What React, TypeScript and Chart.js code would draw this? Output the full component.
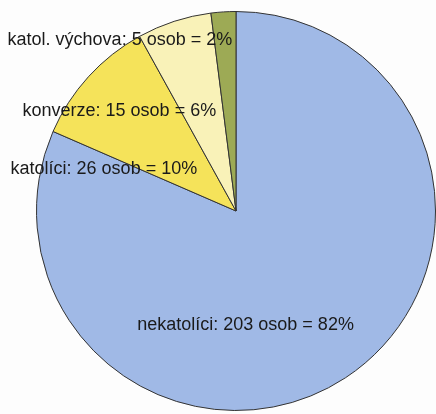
import React, { useEffect, useRef } from "react";
import { Chart, registerables } from "chart.js";

Chart.register(...registerables);

const categories = ["nekatolíci", "katolíci", "konverze", "katol. výchova"];
const counts = [203, 26, 15, 5];
const percents = [82, 10, 6, 2];
const colors = ["#a0b9e6", "#f5e35a", "#f9f2b8", "#9daa55"];

// label anchor offsets relative to pie centre, in units of radius
const labelOffsets: [number, number][] = [
  [-0.495, 0.57],
  [-1.13, -0.21],
  [-1.07, -0.5],
  [-1.145, -0.855],
];

const labelPlugin = {
  id: "sliceLabels",
  afterDatasetsDraw(chart: any) {
    const meta = chart.getDatasetMeta(0);
    const arc = meta.data[0];
    if (!arc) return;
    const { x, y, outerRadius } = arc.getProps(["x", "y", "outerRadius"], true);
    const ctx = chart.ctx;
    ctx.save();
    ctx.font = "18px 'Liberation Sans', Arial, sans-serif";
    ctx.fillStyle = "#1a1a1a";
    ctx.textAlign = "left";
    ctx.textBaseline = "middle";
    categories.forEach((c, i) => {
      const [ox, oy] = labelOffsets[i];
      ctx.fillText(`${c}: ${counts[i]} osob = ${percents[i]}%`, x + ox * outerRadius, y + oy * outerRadius);
    });
    ctx.restore();
  },
};

export default function App() {
  const ref = useRef<HTMLCanvasElement>(null);
  useEffect(() => {
    if (!ref.current) return;
    const chart = new Chart(ref.current, {
      type: "pie",
      data: {
        labels: categories,
        datasets: [
          {
            data: counts,
            backgroundColor: colors,
            borderColor: "#333333",
            borderWidth: 1,
          },
        ],
      },
      options: {
        animation: false,
        responsive: false,
        maintainAspectRatio: false,
        layout: { padding: { left: 36, right: 0, top: 11, bottom: 3 } },
        plugins: { legend: { display: false }, tooltip: { enabled: false } },
      },
      plugins: [labelPlugin],
    });
    return () => chart.destroy();
  }, []);
  return (
    <div style={{ position: "fixed", left: 0, top: 0, width: 436, height: 414, background: "#fdfdfd" }}>
      <canvas ref={ref} width={436} height={414} style={{ display: "block" }} />
    </div>
  );
}
